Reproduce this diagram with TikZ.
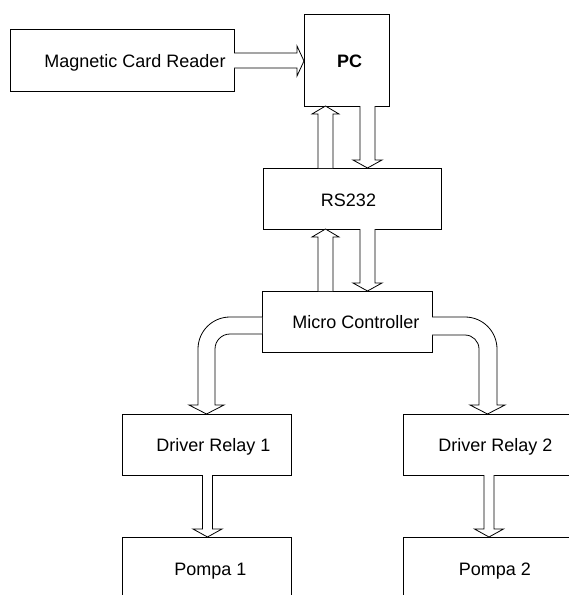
\documentclass[tikz,border=0pt]{standalone}
\usepackage{fontspec}
\setmainfont{Liberation Sans}
\usetikzlibrary{calc}
% vertical block arrow: #1 x, #2 start anchor, #3 tip anchor, #4 half shaft, #5 half head, #6 dir (1 up, -1 down)
\newcommand\vblk[6]{%
  \draw[blk] let \p1=(#2), \p2=(#3), \n1={\y2-#6*8pt} in
    ({(#1-#4)*1pt},\y1) -- ({(#1-#4)*1pt},\n1) -- ({(#1-#5)*1pt},\n1) --
    ({#1*1pt},\y2) -- ({(#1+#5)*1pt},\n1) -- ({(#1+#4)*1pt},\n1) -- ({(#1+#4)*1pt},\y1);}
\begin{document}
\begin{tikzpicture}[x=1pt,y=-1pt, line width=0.8pt,
  box/.style={draw, rectangle, inner sep=0pt, outer sep=0pt},
  lbl/.style={font=\fontsize{18}{21}\selectfont, anchor=base, inner sep=0pt},
  blk/.style={draw, fill=white, line join=miter}]
\useasboundingbox (0,0) rectangle (569,595);
\clip (0,0) rectangle (569,595);
% boxes
\node[box, minimum width=224pt, minimum height=62pt] (mcr) at (122,60) {};
\node[box, minimum width=85pt, minimum height=92pt] (pc) at (346.5,60) {};
\node[box, minimum width=178pt, minimum height=61pt] (rs) at (352,198.5) {};
\node[box, minimum width=170pt, minimum height=61pt] (mc) at (347,321.5) {};
\node[box, minimum width=169pt, minimum height=61pt] (dr1) at (206.5,444.5) {};
\node[box, minimum width=169pt, minimum height=61pt] (dr2) at (487.5,444.5) {};
\node[box, minimum width=169pt, minimum height=61pt] (p1) at (206.5,567.5) {};
\node[box, minimum width=169pt, minimum height=61pt] (p2) at (487.5,567.5) {};
% labels
\node[lbl] (tmcr) at (135,67) {Magnetic Card Reader};
\node[lbl, font=\fontsize{18}{21}\selectfont\bfseries] (tpc) at (349.5,67) {PC};
\node[lbl] (trs) at (348.5,206) {RS232};
\node[lbl] (tmc) at (356,328) {Micro Controller};
\node[lbl] (tdr1) at (213.5,451) {Driver Relay 1};
\node[lbl] (tdr2) at (495.5,451) {Driver Relay 2};
\node[lbl] (tp1) at (210.5,575) {Pompa 1};
\node[lbl] (tp2) at (495,575) {Pompa 2};
% horizontal arrow MCR -> PC
\draw[blk] (mcr.east |- 0,53) -- (297,53) -- (297,46) -- (pc.west |- 0,61) -- (297,76) -- (297,68) -- (mcr.east |- 0,68);
% PC <-> RS232
\vblk{325.5}{rs.north}{pc.south}{7.5}{13.5}{1}
\vblk{367.5}{pc.south}{rs.north}{7.5}{14.5}{-1}
% RS232 <-> MC
\vblk{325.5}{mc.north}{rs.south}{7.5}{13.5}{1}
\vblk{367.5}{rs.south}{mc.north}{7.5}{14.5}{-1}
% MC -> DR1 (curved)
\draw[blk] (mc.west |- 0,317) -- (230,317) arc(270:180:32) -- (198,405) -- (189,405)
  -- (dr1.north -| 206.5,0) -- (224,405) -- (215,405) -- (215,349) arc(180:270:15) -- (mc.west |- 0,334);
% MC -> DR2 (curved)
\draw[blk] (mc.east |- 0,317) -- (465,317) arc(270:360:32) -- (497,405) -- (505,405)
  -- (dr2.north -| 487.5,0) -- (470,405) -- (479,405) -- (479,349) arc(360:270:14) -- (mc.east |- 0,335);
% DR -> Pompa
\vblk{207.5}{dr1.south}{p1.north}{5}{14.5}{-1}
\vblk{489}{dr2.south}{p2.north}{5}{14.5}{-1}
\end{tikzpicture}
\end{document}
